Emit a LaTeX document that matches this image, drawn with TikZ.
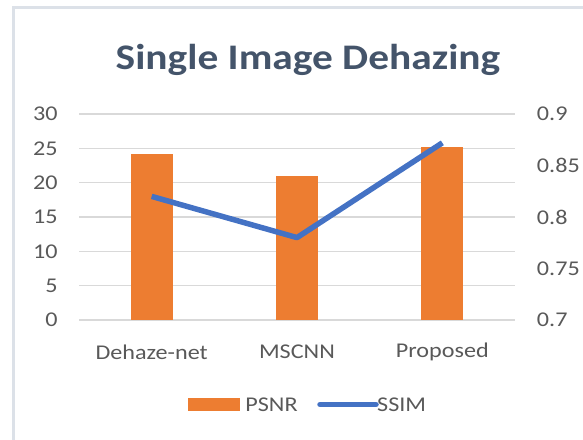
\documentclass[tikz,border=0pt]{standalone}
\usepackage{fontspec}
\setmainfont{Carlito}[FakeStretch=1.15]
\usepackage{tikz}
\usetikzlibrary{positioning}
\definecolor{barorange}{HTML}{ED7D31}
\definecolor{lineblue}{HTML}{4472C4}
\definecolor{titlegray}{HTML}{44546A}
\definecolor{ticktext}{HTML}{595959}
\definecolor{gridgray}{HTML}{D9D9D9}
\definecolor{framegray}{HTML}{DCE1E8}

\begin{document}
\begin{tikzpicture}[x=1pt,y=-1pt]
    \useasboundingbox (0,0) rectangle (583,439);
    \tikzstyle{gridline} = [draw=gridgray, line width=1.5pt]
    \tikzstyle{bar} = [fill=barorange, draw=none]
    \tikzstyle{tick} = [text=ticktext, font=\fontsize{21}{25}\selectfont, inner sep=0pt]
    \tikzstyle{ssimline} = [draw=lineblue, line width=5.5pt, line join=round]
    % outer frame
    \draw[framegray, line width=3pt] (13,460) -- (13,7) -- (600,7);
    \node[text=titlegray, font=\fontsize{36}{43}\selectfont\bfseries] at (308,60) (title) {Single Image Dehazing};
    \begin{scope}[shift={(79,320)}, x=145.33pt, y=6.8667pt]
        % grid
        \path[gridline] (0,0) -- (3,0);
        \path[gridline] (0,5) -- (3,5);
        \path[gridline] (0,10) -- (3,10);
        \path[gridline] (0,15) -- (3,15);
        \path[gridline] (0,20) -- (3,20);
        \path[gridline] (0,25) -- (3,25);
        \path[gridline] (0,30) -- (3,30);
        % left axis (PSNR)
        \node[tick, anchor=east] at (-0.145,0) (p0) {0};
        \node[tick, anchor=east] at (-0.145,5) (p5) {5};
        \node[tick, anchor=east] at (-0.145,10) (p10) {10};
        \node[tick, anchor=east] at (-0.145,15) (p15) {15};
        \node[tick, anchor=east] at (-0.145,20) (p20) {20};
        \node[tick, anchor=east] at (-0.145,25) (p25) {25};
        \node[tick, anchor=east] at (-0.145,30) (p30) {30};
        % right axis (SSIM)
        \node[tick, anchor=west] at (3.15,0) (s70) {0.7};
        \node[tick, anchor=west] at (3.15,7.5) (s75) {0.75};
        \node[tick, anchor=west] at (3.15,15) (s80) {0.8};
        \node[tick, anchor=west] at (3.15,22.5) (s85) {0.85};
        \node[tick, anchor=west] at (3.15,30) (s90) {0.9};
        % bars
        \path[bar] (0.355,0) rectangle (0.645,24.2);
        \path[bar] (1.355,0) rectangle (1.645,21.0);
        \path[bar] (2.355,0) rectangle (2.645,25.2);
        % ssim points
        \coordinate (dehaze) at (0.5,18);
        \coordinate (mscnn) at (1.5,12);
        \coordinate (proposed) at (2.5,25.8);
        \path[ssimline] (dehaze) -- (mscnn) -- (proposed);
        % categories
        \node[tick] at (0.5,-4.66) (cat1) {Dehaze-net};
        \node[tick] at (1.5,-4.66) (cat2) {MSCNN};
        \node[tick] at (2.5,-4.66) (cat3) {Proposed};
    \end{scope}
    % legend
    \node[fill=barorange, minimum width=52pt, minimum height=13pt, inner sep=0pt] at (214,404.5) (psnrkey) {};
    \node[tick, right=5pt of psnrkey] (psnrlabel) {PSNR};
    \coordinate (ssimkeya) at (320,404.5);
    \coordinate (ssimkeyb) at (376,404.5);
    \path[ssimline, line cap=round] (ssimkeya) -- (ssimkeyb);
    \node[tick, right=1pt of ssimkeyb] (ssimlabel) {SSIM};
\end{tikzpicture}
\end{document}
